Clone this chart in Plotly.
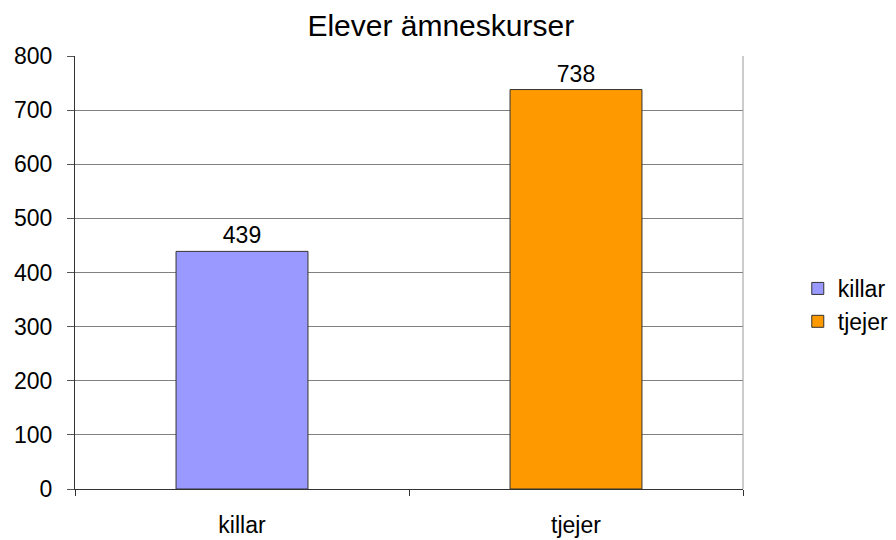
import plotly.graph_objects as go

categories = ["killar", "tjejer"]
values = [439, 738]
colors = ["#9999FF", "#FF9900"]
y_ticks = [0, 100, 200, 300, 400, 500, 600, 700, 800]

fig = go.Figure()
for i, (cat, val, col) in enumerate(zip(categories, values, colors)):
    fig.add_trace(go.Bar(
        x=[cat], y=[val], name=cat,
        marker=dict(color=col, line=dict(color="#333333", width=1)),
        width=0.395,
        text=[str(val)], textposition="outside",
        textfont=dict(size=23, color="black", family="Liberation Sans"),
        cliponaxis=False,
        legendgroup=cat,
    ))

fig.update_layout(
    width=896, height=540,
    margin=dict(l=67, r=161, t=48, b=59, autoexpand=False),
    paper_bgcolor="white", plot_bgcolor="white",
    barmode="overlay",
    font=dict(family="Liberation Sans", size=23, color="black"),
    title=dict(text="Elever ämneskurser", x=0.483, xanchor="center", y=0.968, yanchor="middle",
               font=dict(size=30, color="black")),
    showlegend=True,
    legend=dict(x=1.082, y=0.425, xanchor="left", yanchor="middle",
                font=dict(size=23), itemwidth=30, tracegroupgap=0,
                bgcolor="rgba(0,0,0,0)"),
)
fig.update_xaxes(
    showgrid=False, showline=True, linecolor="#333333", linewidth=1,
    ticks="outside", tickson="boundaries", ticklen=6, tickcolor="#333333",
    tickfont=dict(size=23), ticklabelstandoff=15,
)
fig.update_yaxes(
    range=[0, 800], tickvals=y_ticks, showgrid=True, gridcolor="#808080", gridwidth=1,
    showline=True, linecolor="#333333", linewidth=1, ticks="outside", ticklen=7,
    tickcolor="#555555", tickfont=dict(size=23), zeroline=False, ticklabelstandoff=10,
)
# right border
fig.add_shape(type="line", xref="paper", yref="paper", x0=1, x1=1, y0=0, y1=1,
              line=dict(color="#999999", width=1))
fig.write_html("out.html")
